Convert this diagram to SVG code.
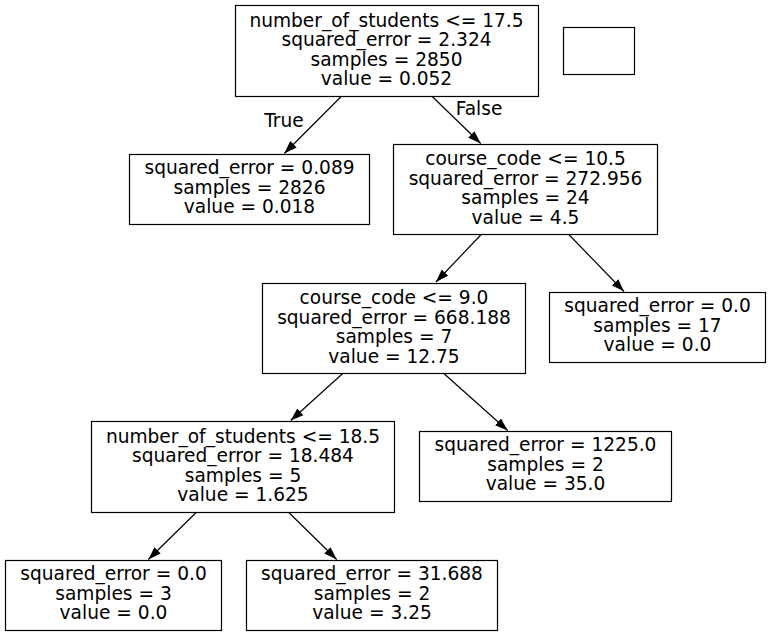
<svg xmlns="http://www.w3.org/2000/svg" width="771" height="636" viewBox="0 0 771 636">
<defs>
<style>
.box{fill:#fff;stroke:#000;stroke-width:1.2}
.t{font-family:"DejaVu Sans",sans-serif;font-size:18.6px;text-anchor:middle;fill:#000}
.e{stroke:#000;stroke-width:1.2;fill:none;marker-end:url(#ah)}
</style>
<marker id="ah" markerUnits="userSpaceOnUse" markerWidth="14" markerHeight="10" refX="13" refY="5" orient="auto">
<path d="M0,0.5 L13,5 L0,9.5 z" fill="#000"/>
</marker>
</defs>
<rect width="771" height="636" fill="#fff"/>
<g id="connectors">
<path class="e" d="M341.7,96 L284.3,153.5"/>
<path class="e" d="M431.7,96 L480.7,143.5"/>
<path class="e" d="M481.7,234 L436,282"/>
<path class="e" d="M568.3,234 L624,291.5"/>
<path class="e" d="M343.3,373 L290.7,420.5"/>
<path class="e" d="M443.3,373 L507.7,430.5"/>
<path class="e" d="M196.7,512 L148.3,559.5"/>
<path class="e" d="M288.3,512 L336.7,559.5"/>
<text class="t" x="284" y="126.5">True</text>
<text class="t" x="479" y="114.5">False</text>
</g>
<g id="n0">
<rect class="box" x="235.5" y="5.5" width="303" height="91"/>
<text class="t" x="386.5" y="26.5">number_of_students &lt;= 17.5</text>
<text class="t" x="386.5" y="46">squared_error = 2.324</text>
<text class="t" x="386.5" y="65.5">samples = 2850</text>
<text class="t" x="386.5" y="85">value = 0.052</text>
</g>
<g id="empty">
<rect class="box" x="563.5" y="27.5" width="71" height="47"/>
</g>
<g id="n1">
<rect class="box" x="129.5" y="154.5" width="240" height="70"/>
<text class="t" x="249.5" y="174">squared_error = 0.089</text>
<text class="t" x="249.5" y="193.5">samples = 2826</text>
<text class="t" x="249.5" y="213">value = 0.018</text>
</g>
<g id="n2">
<rect class="box" x="393.5" y="144.5" width="264" height="90"/>
<text class="t" x="525.5" y="165">course_code &lt;= 10.5</text>
<text class="t" x="525.5" y="184.5">squared_error = 272.956</text>
<text class="t" x="525.5" y="204">samples = 24</text>
<text class="t" x="525.5" y="223.5">value = 4.5</text>
</g>
<g id="n3">
<rect class="box" x="262.5" y="283.5" width="263" height="90"/>
<text class="t" x="394" y="304">course_code &lt;= 9.0</text>
<text class="t" x="394" y="323.5">squared_error = 668.188</text>
<text class="t" x="394" y="343">samples = 7</text>
<text class="t" x="394" y="362.5">value = 12.75</text>
</g>
<g id="n4">
<rect class="box" x="549.5" y="292.5" width="216" height="70"/>
<text class="t" x="657.5" y="312">squared_error = 0.0</text>
<text class="t" x="657.5" y="331.5">samples = 17</text>
<text class="t" x="657.5" y="351">value = 0.0</text>
</g>
<g id="n5">
<rect class="box" x="91.5" y="421.5" width="303" height="91"/>
<text class="t" x="243" y="442.5">number_of_students &lt;= 18.5</text>
<text class="t" x="243" y="462">squared_error = 18.484</text>
<text class="t" x="243" y="481.5">samples = 5</text>
<text class="t" x="243" y="501">value = 1.625</text>
</g>
<g id="n6">
<rect class="box" x="419.5" y="431.5" width="252" height="70"/>
<text class="t" x="545.5" y="451">squared_error = 1225.0</text>
<text class="t" x="545.5" y="470.5">samples = 2</text>
<text class="t" x="545.5" y="490">value = 35.0</text>
</g>
<g id="n7">
<rect class="box" x="5.5" y="560.5" width="216" height="70"/>
<text class="t" x="113.5" y="580">squared_error = 0.0</text>
<text class="t" x="113.5" y="599.5">samples = 3</text>
<text class="t" x="113.5" y="619">value = 0.0</text>
</g>
<g id="n8">
<rect class="box" x="246.5" y="560.5" width="251" height="70"/>
<text class="t" x="372" y="580">squared_error = 31.688</text>
<text class="t" x="372" y="599.5">samples = 2</text>
<text class="t" x="372" y="619">value = 3.25</text>
</g>
</svg>
